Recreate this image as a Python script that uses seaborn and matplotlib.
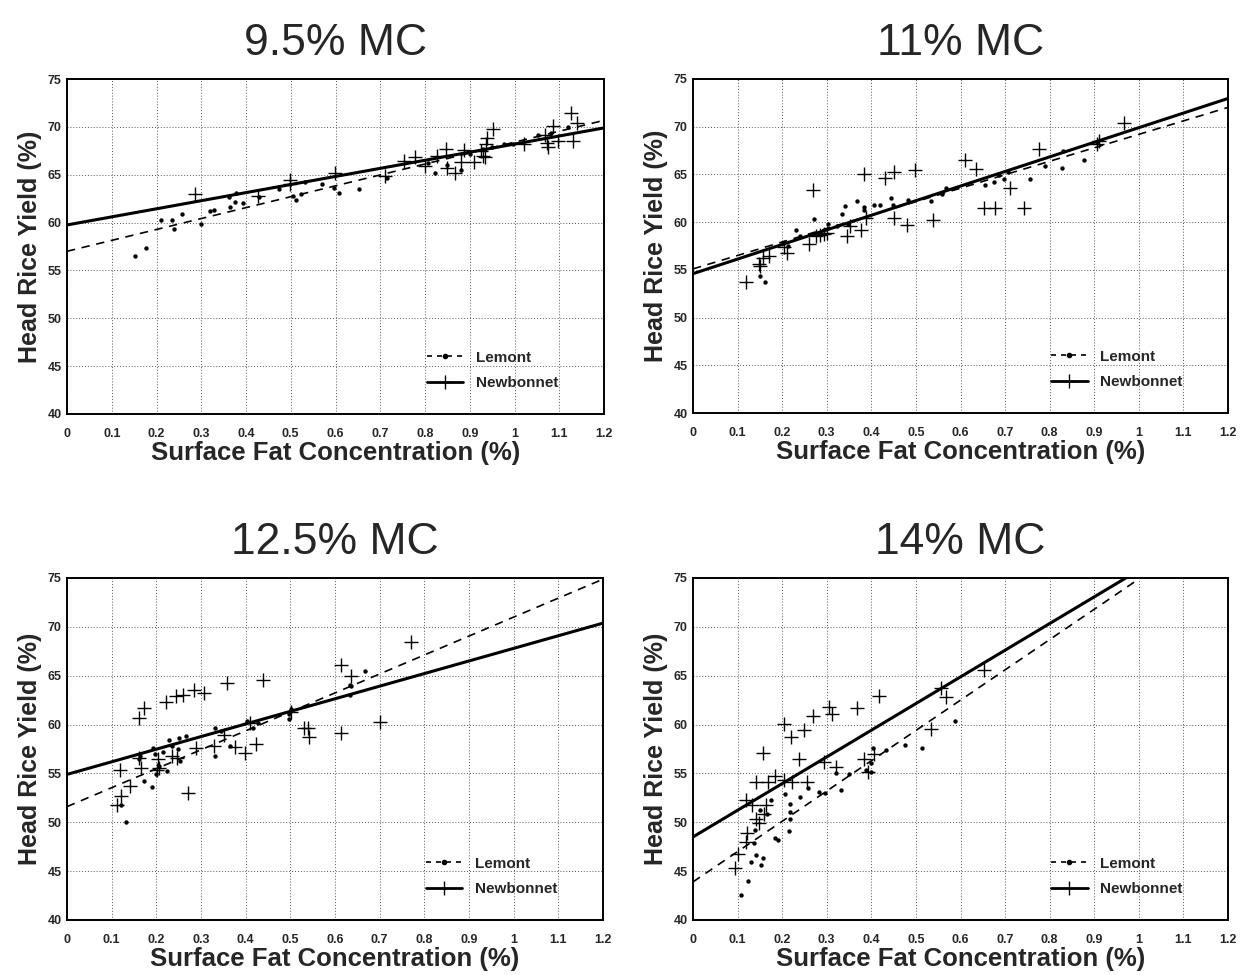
import numpy as np
import pandas as pd
import matplotlib
matplotlib.use("Agg")
import matplotlib.pyplot as plt
from matplotlib.lines import Line2D
import seaborn as sns

# ---------------- data ----------------
titles = ["9.5% MC", "11% MC", "12.5% MC", "14% MC"]
x_ticks = [0, 0.1, 0.2, 0.3, 0.4, 0.5, 0.6, 0.7, 0.8, 0.9, 1, 1.1, 1.2]
x_tick_labels = ["0", "0.1", "0.2", "0.3", "0.4", "0.5", "0.6", "0.7", "0.8", "0.9", "1", "1.1", "1.2"]
y_ticks = [40, 45, 50, 55, 60, 65, 70, 75]

# 9.5% MC
lem95_x = [0.151, 0.176, 0.21, 0.234, 0.239, 0.256, 0.30, 0.32, 0.328, 0.363, 0.365, 0.376, 0.378, 0.393,
           0.43, 0.473, 0.504, 0.512, 0.523, 0.531, 0.570, 0.596, 0.607, 0.653, 0.715, 0.807, 0.822, 0.85,
           0.88, 0.90, 0.93, 0.95, 0.976, 0.996, 1.052, 1.081, 1.12]
lem95_y = [56.55, 57.35, 60.3, 60.3, 59.3, 60.9, 59.9, 61.2, 61.3, 62.7, 61.6, 62.1, 63.1, 62.0,
           62.7, 63.5, 62.8, 62.4, 63.0, 64.2, 64.0, 63.6, 63.1, 63.5, 64.7, 66.2, 65.2, 66.0,
           65.5, 67.2, 67.7, 67.9, 68.2, 68.2, 69.2, 69.4, 70.0]
nb95_x = [0.287, 0.427, 0.499, 0.499, 0.598, 0.711, 0.753, 0.778, 0.801, 0.827, 0.846, 0.849, 0.868, 0.881,
          0.887, 0.909, 0.926, 0.930, 0.933, 0.937, 0.939, 0.953, 1.021, 1.068, 1.073, 1.085, 1.074, 1.098,
          1.126, 1.139, 1.130]
nb95_y = [63.0, 62.8, 64.5, 64.0, 65.2, 64.9, 66.4, 66.8, 65.9, 67.0, 67.7, 65.7, 65.2, 66.3,
          67.6, 66.3, 67.5, 67.0, 66.8, 68.2, 68.8, 69.8, 68.2, 69.2, 68.3, 70.1, 67.9, 68.5,
          71.5, 70.4, 68.5]

# 11% MC
lem11_x = [0.150, 0.161, 0.201, 0.212, 0.230, 0.240, 0.272, 0.302, 0.323, 0.334, 0.341, 0.347, 0.367, 0.383,
           0.384, 0.407, 0.420, 0.443, 0.448, 0.482, 0.534, 0.559, 0.568, 0.654, 0.675, 0.686, 0.697, 0.706,
           0.755, 0.790, 0.828, 0.831, 0.876, 0.906]
lem11_y = [54.4, 53.7, 57.8, 57.5, 59.2, 58.6, 60.3, 59.8, 59.6, 60.9, 61.7, 59.8, 62.2, 61.6,
           61.3, 61.8, 61.8, 62.5, 61.8, 62.3, 62.2, 63.0, 63.6, 63.9, 64.2, 64.9, 64.5, 65.3,
           64.5, 65.9, 65.7, 67.5, 66.5, 68.4]
nb11_x = [0.118, 0.148, 0.150, 0.157, 0.170, 0.204, 0.210, 0.260, 0.269, 0.275, 0.285, 0.294, 0.300, 0.345,
          0.353, 0.377, 0.384, 0.388, 0.431, 0.450, 0.450, 0.480, 0.498, 0.538, 0.611, 0.634, 0.652, 0.678,
          0.710, 0.743, 0.775, 0.906, 0.91, 0.966]
nb11_y = [53.7, 55.6, 55.4, 56.2, 56.5, 57.4, 56.8, 57.7, 63.4, 58.5, 58.7, 58.8, 58.9, 58.6,
          59.6, 59.2, 65.0, 60.4, 64.6, 65.3, 60.4, 59.7, 65.5, 60.2, 66.5, 65.6, 61.5, 61.5,
          63.6, 61.5, 67.7, 68.2, 68.5, 70.4]

# 12.5% MC
lem125_x = [0.131, 0.122, 0.164, 0.162, 0.173, 0.190, 0.192, 0.198, 0.199, 0.207, 0.214, 0.223, 0.229, 0.235,
            0.249, 0.252, 0.251, 0.266, 0.332, 0.332, 0.345, 0.365, 0.404, 0.417, 0.428, 0.496, 0.498, 0.502,
            0.634, 0.636, 0.667, 0.633]
lem125_y = [50.0, 51.8, 56.8, 56.5, 54.2, 53.6, 57.6, 57.0, 54.9, 55.8, 57.2, 55.2, 58.4, 57.8,
            57.5, 56.3, 58.6, 58.8, 56.8, 59.6, 59.3, 57.8, 60.4, 59.6, 60.2, 61.1, 60.6, 61.6,
            64.0, 63.9, 65.5, 63.0]
nb125_x = [0.118, 0.112, 0.122, 0.142, 0.161, 0.173, 0.162, 0.166, 0.203, 0.207, 0.201, 0.221, 0.244, 0.260,
           0.284, 0.306, 0.236, 0.247, 0.272, 0.288, 0.328, 0.358, 0.351, 0.376, 0.399, 0.423, 0.439, 0.410,
           0.502, 0.531, 0.542, 0.540, 0.613, 0.635, 0.613, 0.700, 0.770]
nb125_y = [55.3, 51.8, 52.7, 53.7, 60.7, 61.7, 56.6, 55.6, 56.5, 55.6, 55.3, 62.3, 62.9, 63.0,
           63.5, 63.2, 56.8, 56.6, 53.0, 57.6, 57.8, 64.3, 58.9, 57.7, 57.1, 58.0, 64.6, 60.2,
           61.3, 59.7, 58.7, 59.7, 66.1, 65.0, 59.1, 60.3, 68.4]

# 14% MC
lem14_x = [0.107, 0.124, 0.130, 0.142, 0.152, 0.158, 0.137, 0.139, 0.150, 0.167, 0.175, 0.184, 0.190, 0.207,
           0.217, 0.217, 0.217, 0.216, 0.240, 0.257, 0.283, 0.297, 0.321, 0.332, 0.350, 0.388, 0.399, 0.399,
           0.404, 0.433, 0.476, 0.514, 0.587]
lem14_y = [42.6, 44.0, 45.9, 46.7, 45.6, 46.3, 47.9, 49.2, 51.3, 50.8, 52.3, 48.4, 48.2, 52.9,
           51.9, 51.1, 50.3, 49.1, 52.6, 53.5, 53.1, 53.0, 55.0, 53.3, 54.9, 55.4, 55.1, 56.1,
           57.6, 57.4, 57.9, 57.6, 60.4]
nb14_x = [0.094, 0.100, 0.118, 0.121, 0.118, 0.133, 0.141, 0.148, 0.142, 0.156, 0.163, 0.160, 0.169, 0.184,
          0.204, 0.204, 0.219, 0.222, 0.238, 0.249, 0.255, 0.270, 0.294, 0.304, 0.312, 0.321, 0.367, 0.384,
          0.392, 0.407, 0.418, 0.534, 0.557, 0.568, 0.652]
nb14_y = [45.3, 46.8, 48.0, 48.9, 52.3, 51.8, 50.3, 49.9, 54.1, 57.1, 51.8, 50.8, 54.1, 54.7,
          60.1, 54.3, 58.7, 54.1, 56.5, 59.4, 54.1, 60.9, 56.2, 61.8, 61.1, 55.7, 61.7, 56.5,
          55.1, 57.0, 62.9, 59.5, 63.7, 62.8, 65.6]

# fitted regression lines (intercept, slope)
lem_intercept = [57.0, 55.1, 51.6, 43.9]
lem_slope = [11.4, 14.1, 19.4, 31.0]
nb_intercept = [59.75, 54.6, 54.9, 48.5]
nb_slope = [8.45, 15.3, 12.9, 27.3]

lem_xs = [lem95_x, lem11_x, lem125_x, lem14_x]
lem_ys = [lem95_y, lem11_y, lem125_y, lem14_y]
nb_xs = [nb95_x, nb11_x, nb125_x, nb14_x]
nb_ys = [nb95_y, nb11_y, nb125_y, nb14_y]

# ---------------- style ----------------
sns.set_style("white")
plt.rcParams["font.family"] = ["Liberation Sans", "DejaVu Sans"]

W, H = 1243, 975
fig = plt.figure(figsize=(W / 100, H / 100), dpi=100)

# axes boxes in pixels: left, right, top, bottom
boxes = [(67, 604, 79, 414), (693, 1228, 79, 413), (67, 603, 578, 920), (693, 1228, 578, 920)]

for i in range(4):
    l, r, t, b = boxes[i]
    ax = fig.add_axes([l / W, 1 - b / H, (r - l) / W, (b - t) / H])

    fit_x = np.array([x_ticks[0], x_ticks[-1]])
    lines = pd.DataFrame({
        "x": np.concatenate([fit_x, fit_x]),
        "y": np.concatenate([lem_intercept[i] + lem_slope[i] * fit_x,
                             nb_intercept[i] + nb_slope[i] * fit_x]),
        "variety": ["Lemont"] * 2 + ["Newbonnet"] * 2,
    })
    sns.lineplot(data=lines[lines.variety == "Lemont"], x="x", y="y", ax=ax, color="black",
                 linewidth=1.2, linestyle=(0, (5, 4)), legend=False)
    sns.lineplot(data=lines[lines.variety == "Newbonnet"], x="x", y="y", ax=ax, color="black",
                 linewidth=2.2, legend=False)

    sns.scatterplot(x=lem_xs[i], y=lem_ys[i], ax=ax, marker="o", s=10, color="black",
                    edgecolor="black", linewidth=0, legend=False)
    sns.scatterplot(x=nb_xs[i], y=nb_ys[i], ax=ax, marker="+", s=110, color="black",
                    linewidth=1.0, legend=False)

    ax.set_xlim(0, 1.2)
    ax.set_ylim(40, 75)
    ax.set_xticks(x_ticks)
    ax.set_xticklabels(x_tick_labels)
    ax.set_yticks(y_ticks)
    ax.tick_params(length=0, labelsize=9, pad=4)
    ax.tick_params(axis="x", pad=10)
    for lab in ax.get_xticklabels() + ax.get_yticklabels():
        lab.set_fontweight("bold")
    ax.grid(True, color="#555555", linestyle=(0, (1, 2)), linewidth=0.7)
    for sp in ax.spines.values():
        sp.set_visible(True)
        sp.set_color("black")
        sp.set_linewidth(1.4)

    ax.set_xlabel("Surface Fat Concentration (%)", fontsize=18.5, fontweight="bold", labelpad=1)
    ax.set_ylabel("Head Rice Yield (%)", fontsize=18, fontweight="bold", labelpad=4)
    ax.set_title(titles[i], fontsize=32, pad=17)

    handles = [
        Line2D([0], [0], color="black", linestyle=(0, (3, 3)), linewidth=1.2, marker="o", markersize=3),
        Line2D([0], [0], color="black", linestyle="-", linewidth=2.0, marker="+", markersize=10,
               markeredgewidth=1.0),
    ]
    ax.legend(handles, ["Lemont", "Newbonnet"], loc="lower right", bbox_to_anchor=(0.94, 0.03),
              frameon=False, prop={"weight": "bold", "size": 11}, handlelength=2.4,
              labelspacing=0.75, handletextpad=0.8)

fig.savefig("out.png", dpi=100)
